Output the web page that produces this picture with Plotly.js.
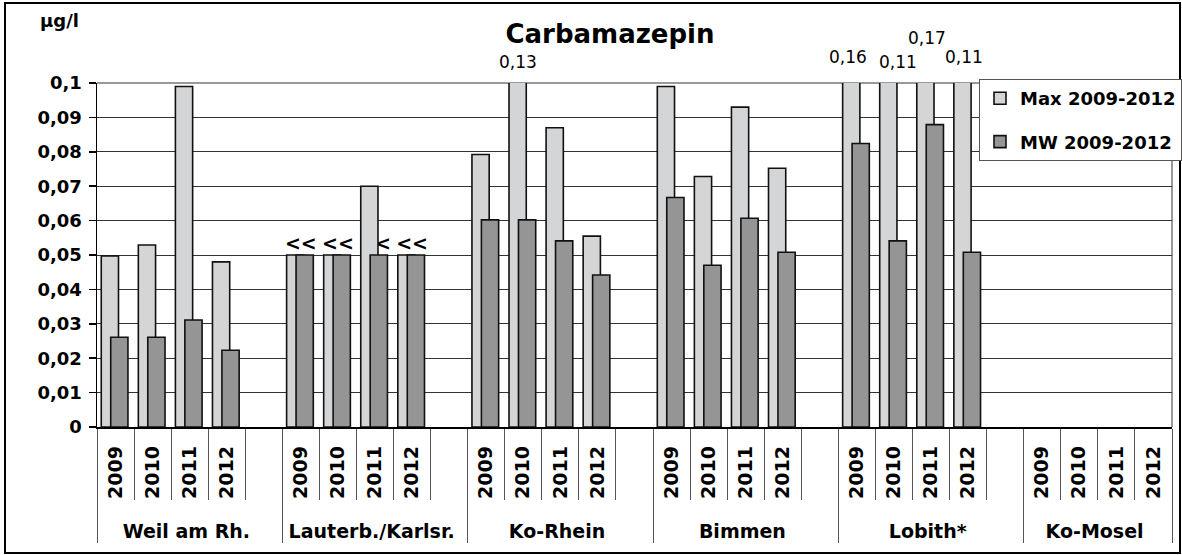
<!DOCTYPE html>
<html><head><meta charset="utf-8">
<script src="https://cdn.plot.ly/plotly-3.0.1.min.js"></script>
<style>html,body{margin:0;padding:0;background:#fff}#chart{width:1182px;height:555px}</style>
</head><body><div id="chart"></div>
<script>
// ---- data ----
const stations = ["Weil am Rh.", "Lauterb./Karlsr.", "Ko-Rhein", "Bimmen", "Lobith*", "Ko-Mosel"];
const years = ["2009", "2010", "2011", "2012"];
const maxValues = [
  [0.0497, 0.0529, 0.0990, 0.0480],
  [0.0500, 0.0500, 0.0700, 0.0500],
  [0.0792, 0.1300, 0.0870, 0.0555],
  [0.0990, 0.0728, 0.0930, 0.0752],
  [0.1600, 0.1100, 0.1700, 0.1100],
  [null, null, null, null]
];
const meanValues = [
  [0.0261, 0.0261, 0.0311, 0.0223],
  [0.0500, 0.0500, 0.0500, 0.0500],
  [0.0602, 0.0602, 0.0541, 0.0442],
  [0.0667, 0.0470, 0.0607, 0.0508],
  [0.0824, 0.0541, 0.0879, 0.0508],
  [null, null, null, null]
];
const lodMarks = [
  ["", "", "", ""],
  ["<<", "<<", "<<", "<<"],
  ["", "", "", ""],
  ["", "", "", ""],
  ["", "", "", ""],
  ["", "", "", ""]
];
const seriesNames = ["Max 2009-2012", "MW 2009-2012"];
const yMax = 0.1;
const yStep = 0.01;
// label placement for values above the axis (px above plot top, px shift)
const overflowLift = [21, 26, 21, 45, 26];
const overflowShift = [0, -3, 10, 2, 2];

// ---- styles ----
const FONT = "DejaVu Sans";
const colMax = "#d4d5d7";
const colMW = "#959595";
const gapLabel = "\u00a0".repeat(10); // blank spacer slot between stations

// ---- build category arrays ----
const xGroup = [], xYear = [], yMaxArr = [], yMWArr = [];
const lodG = [], lodY = [], lodV = [], lodT = [];
const overflow = [];
let slot = 0;
stations.forEach((st, g) => {
  years.forEach((yr, j) => {
    xGroup.push(st); xYear.push(yr);
    yMaxArr.push(maxValues[g][j]); yMWArr.push(meanValues[g][j]);
    if (lodMarks[g][j]) {
      lodG.push(st); lodY.push(yr);
      lodV.push(Math.min(maxValues[g][j], meanValues[g][j]));
      lodT.push(lodMarks[g][j]);
    }
    if (maxValues[g][j] !== null && maxValues[g][j] > yMax) overflow.push({slot: slot, v: maxValues[g][j]});
    slot++;
  });
  if (g < stations.length - 1) {
    xGroup.push(st); xYear.push(gapLabel);
    yMaxArr.push(null); yMWArr.push(null);
    slot++;
  }
});

const barW = 0.465, offMax = -0.385, offMW = -0.13;
const traces = [
  {
    type: "bar", name: seriesNames[0], x: [xGroup, xYear], y: yMaxArr,
    width: barW, offset: offMax, xaxis: "x", yaxis: "y2", legendgroup: "a",
    marker: {color: colMax, line: {color: "#111", width: 1.6}}
  },
  {
    type: "bar", name: seriesNames[1], x: [xGroup, xYear], y: yMWArr,
    width: barW, offset: offMW, xaxis: "x", yaxis: "y2", legendgroup: "b",
    marker: {color: colMW, line: {color: "#111", width: 1.6}}
  },
  {
    type: "scatter", mode: "text", x: [lodG, lodY], y: lodV, text: lodT,
    textposition: "top center", showlegend: false, hoverinfo: "skip",
    textfont: {family: FONT, size: 19, weight: 700, color: "#000"},
    xaxis: "x", yaxis: "y", cliponaxis: false
  }
];

const L = 97, R = 10, T = 83, B = 128, W = 1182, H = 555;
const pw = W - L - R, ph = H - T - B;
const px2x = p => (p - L) / pw;
const py2y = p => (H - B - p) / ph;

const annotations = overflow.map((o, i) => ({
  x: o.slot + offMax + barW / 2, xref: "x", y: 1, yref: "paper",
  yshift: overflowLift[i], xshift: overflowShift[i],
  text: String(o.v).replace(".", ","), showarrow: false,
  xanchor: "center", yanchor: "middle",
  font: {family: FONT, size: 17, color: "#000"}
}));
annotations.push({
  x: px2x(59), xref: "paper", y: py2y(21), yref: "paper", text: "µg/l",
  showarrow: false, xanchor: "center", yanchor: "middle",
  font: {family: FONT, size: 18, weight: 700, color: "#000"}
});

const layout = {
  width: W, height: H,
  margin: {l: L, r: R, t: T, b: B, autoexpand: false},
  paper_bgcolor: "#fff", plot_bgcolor: "#fff",
  separators: ", ",
  barmode: "overlay",
  title: {
    text: "Carbamazepin", xref: "container", yref: "container",
    x: 610 / W, xanchor: "center", y: 1 - 34 / H, yanchor: "middle",
    font: {family: FONT, size: 26, weight: 700, color: "#000"}
  },
  xaxis: {
    type: "multicategory", showline: true, linecolor: "#000", linewidth: 1.5,
    ticks: "outside", tickson: "boundaries", ticklen: 71, tickcolor: "#555", tickwidth: 1,
    tickangle: -90, ticklabelstandoff: 10,
    tickfont: {family: FONT, size: 19, weight: 700, color: "#000"},
    showdividers: true, dividercolor: "#555", dividerwidth: 1,
    showgrid: false, zeroline: false
  },
  yaxis: {
    range: [0, yMax], tick0: 0, dtick: yStep, showgrid: true, gridcolor: "#333", gridwidth: 1,
    showline: true, linecolor: "#000", linewidth: 1.5, zeroline: false,
    ticks: "outside", ticklen: 7, tickcolor: "#000", tickwidth: 1.5, ticklabelstandoff: 3,
    tickfont: {family: FONT, size: 18, weight: 700, color: "#000"}
  },
  yaxis2: {overlaying: "y", range: [0, yMax], visible: false, showgrid: false},
  legend: {
    x: px2x(979), y: py2y(79), xanchor: "left", yanchor: "top",
    bgcolor: "#fff", bordercolor: "#555", borderwidth: 1,
    traceorder: "grouped", tracegroupgap: 17,
    font: {family: FONT, size: 18, weight: 700, color: "#000"}
  },
  shapes: [
    {type: "rect", xref: "paper", yref: "paper", x0: px2x(5), x1: px2x(1180), y0: py2y(553), y1: py2y(3),
     line: {color: "#000", width: 2}, layer: "below"},
    {type: "path", xref: "paper", yref: "paper", path: "M0,1 L1,1 L1,0",
     line: {color: "#999", width: 2}, layer: "between"}
  ],
  annotations: annotations,
  showlegend: true
};

Plotly.newPlot("chart", traces, layout, {displayModeBar: false, staticPlot: true});
</script></body></html>
